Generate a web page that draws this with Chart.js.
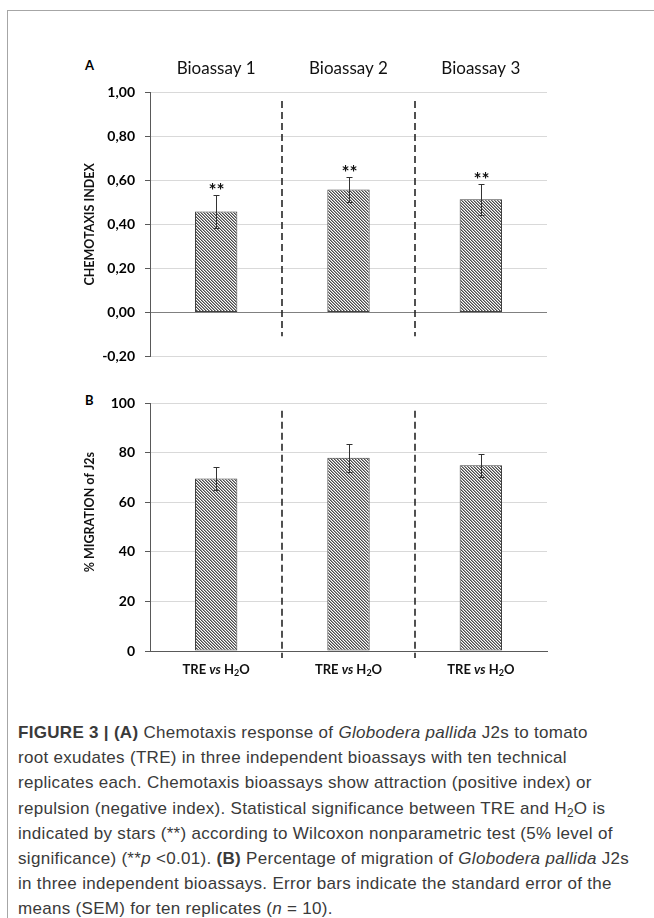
<!DOCTYPE html>
<html><head><meta charset="utf-8">
<script src="https://cdn.jsdelivr.net/npm/chart.js@4.4.1/dist/chart.umd.min.js"></script>
<style>
html,body{margin:0;padding:0;background:#fff;}
body{width:654px;height:918px;position:relative;overflow:hidden;font-family:Lato,sans-serif;}
#frame{position:absolute;left:7px;top:10px;width:700px;height:960px;border-left:1px solid #a6a6a6;border-top:1px solid #a6a6a6;}
canvas{position:absolute;left:0;}
#cA{top:0;}
#cB{top:380px;}
.pl{position:absolute;font:bold 13px Lato,sans-serif;color:#000;}
#cap{position:absolute;left:18px;top:720px;font:17px "Liberation Sans",Arial,sans-serif;letter-spacing:0.3px;color:#3a3a3a;line-height:25.2px;white-space:nowrap;}
#cap sub{font-size:0.7em;vertical-align:-0.25em;line-height:0;}
</style></head>
<body>
<div id="frame"></div>
<div class="pl" style="left:85px;top:57px">A</div>
<div class="pl" style="left:85px;top:392px">B</div>
<canvas id="cA" width="654" height="380"></canvas>
<canvas id="cB" width="654" height="320"></canvas>
<div id="cap">
<b>FIGURE 3 | (A)</b> Chemotaxis response of <i>Globodera pallida</i> J2s to tomato<br>
root exudates (TRE) in three independent bioassays with ten technical<br>
replicates each. Chemotaxis bioassays show attraction (positive index) or<br>
repulsion (negative index). Statistical significance between TRE and H<sub>2</sub>O is<br>
indicated by stars (**) according to Wilcoxon nonparametric test (5% level of<br>
significance) (**<i>p</i> &lt;0.01). <b>(B)</b> Percentage of migration of <i>Globodera pallida</i> J2s<br>
in three independent bioassays. Error bars indicate the standard error of the<br>
means (SEM) for ten replicates (<i>n</i> = 10).
</div>
<script>
// ---- data ----
const categories = ['Bioassay 1', 'Bioassay 2', 'Bioassay 3'];
const chemotaxisIndex = [0.458, 0.559, 0.514];
const chemotaxisSEM = [0.075, 0.059, 0.072];
const significance = ['**', '**', '**'];
const migrationLabels = ['TRE vs H2O', 'TRE vs H2O', 'TRE vs H2O'];
const migrationPct = [69.6, 78.0, 75.0];
const migrationSEM = [4.6, 5.7, 4.7];
const chemoAxisTitle = 'CHEMOTAXIS INDEX';
const migrationAxisTitle = '% MIGRATION of J2s';

function hatch() {
  const c = document.createElement('canvas'); c.width = 3; c.height = 3;
  const g = c.getContext('2d');
  const cols = ['#4a4a4a', '#9c9c9c', '#ffffff'];
  for (let y = 0; y < 3; y++) for (let x = 0; x < 3; x++) {
    g.fillStyle = cols[((x - y) % 3 + 3) % 3]; g.fillRect(x, y, 1, 1);
  }
  return g.createPattern(c, 'repeat');
}

const errorBars = {
  id: 'errorBars',
  afterDatasetsDraw(chart, args, opts) {
    const ctx = chart.ctx, y = chart.scales.y, meta = chart.getDatasetMeta(0);
    ctx.save();
    ctx.strokeStyle = '#333'; ctx.lineWidth = 1;
    opts.values.forEach((v, i) => {
      const x = Math.round(meta.data[i].x) + 0.5;
      const t = Math.round(y.getPixelForValue(v + opts.errors[i])) + 0.5;
      const b = Math.round(y.getPixelForValue(v - opts.errors[i])) + 0.5;
      ctx.beginPath();
      ctx.moveTo(x, t); ctx.lineTo(x, b);
      ctx.moveTo(x - 3, t); ctx.lineTo(x + 3, t);
      ctx.moveTo(x - 3, b); ctx.lineTo(x + 3, b);
      ctx.stroke();
      if (opts.marks) {
        ctx.fillStyle = '#111'; ctx.font = 'bold 19px Lato'; ctx.textAlign = 'center'; ctx.textBaseline = 'middle';
        ctx.fillText(opts.marks[i], x, t - 5);
      }
    });
    ctx.restore();
  }
};

const dividers = {
  id: 'dividers',
  afterDraw(chart, args, opts) {
    const x = chart.scales.x, y = chart.scales.y, ctx = chart.ctx;
    ctx.save();
    ctx.setLineDash([7, 4]); ctx.strokeStyle = '#262626'; ctx.lineWidth = 1.6;
    for (let i = 0; i < chart.data.labels.length - 1; i++) {
      const px = Math.round((x.getPixelForValue(i) + x.getPixelForValue(i + 1)) / 2);
      ctx.beginPath();
      ctx.moveTo(px, y.getPixelForValue(opts.from));
      ctx.lineTo(px, y.getPixelForValue(opts.to));
      ctx.stroke();
    }
    ctx.restore();
  }
};

const richLabels = {
  id: 'richLabels',
  afterDraw(chart, args, opts) {
    if (!opts.enabled) return;
    const ctx = chart.ctx, x = chart.scales.x, yc = chart.chartArea.bottom + opts.offset;
    ctx.save();
    ctx.fillStyle = '#111'; ctx.textBaseline = 'middle'; ctx.textAlign = 'left';
    const fontFor = p => p === 'vs' ? 'italic bold 13px Lato' : (/^\d$/.test(p) ? 'bold 9px Lato' : 'bold 13px Lato');
    chart.data.labels.forEach((lab, i) => {
      const parts = lab.split(/(vs|2)/).filter(s => s.length);
      let w = 0;
      parts.forEach(p => { ctx.font = fontFor(p); w += ctx.measureText(p).width; });
      let cx = x.getPixelForValue(i) - w / 2;
      parts.forEach(p => {
        ctx.font = fontFor(p);
        ctx.fillText(p, cx, /^\d$/.test(p) ? yc + 3 : yc);
        cx += ctx.measureText(p).width;
      });
    });
    ctx.restore();
  }
};

const sideTitle = {
  id: 'sideTitle',
  afterDraw(chart, args, opts) {
    if (!opts.text) return;
    const ctx = chart.ctx, a = chart.chartArea;
    ctx.save();
    ctx.translate(opts.x, (a.top + a.bottom) / 2 + opts.shift);
    ctx.rotate(-Math.PI / 2);
    ctx.fillStyle = '#111'; ctx.font = 'bold 12.5px Lato'; ctx.textAlign = 'center'; ctx.textBaseline = 'middle';
    ctx.fillText(opts.text, 0, 0);
    ctx.restore();
  }
};

Chart.register(errorBars, dividers, richLabels, sideTitle);

const yTickFont = { family: 'Lato', size: 14, weight: 'bold' };

new Chart(document.getElementById('cA'), {
  type: 'bar',
  data: { labels: categories, datasets: [{ data: chemotaxisIndex, backgroundColor: hatch(), borderColor: '#404040', borderWidth: 1, borderSkipped: false, categoryPercentage: 1, barPercentage: 0.32 }] },
  options: {
    responsive: false, animation: false, devicePixelRatio: 1,
    layout: { padding: { left: 0, right: 107, top: 40, bottom: 24 } },
    plugins: {
      legend: { display: false }, tooltip: { enabled: false },
      errorBars: { values: chemotaxisIndex, errors: chemotaxisSEM, marks: significance },
      dividers: { from: 0.962, to: -0.11 },
      sideTitle: { text: chemoAxisTitle, x: 90, shift: 0 }
    },
    scales: {
      x: { position: 'top', grid: { display: false, drawTicks: false }, border: { display: false },
           ticks: { font: { family: 'Lato', size: 17 }, color: '#111', padding: 14 },
           afterFit(s) { s.height = 52.7; } },
      y: { min: -0.2, max: 1,
           ticks: { stepSize: 0.2, callback: v => (Math.abs(v) < 1e-9 ? 0 : v).toFixed(2).replace('.', ','), font: yTickFont, color: '#000', padding: 10 },
           grid: { color: c => Math.abs(c.tick.value) < 1e-9 ? '#808080' : '#d9d9d9', tickColor: '#595959', tickLength: 5 },
           border: { color: '#595959' },
           afterFit(s) { s.width = 150; } }
    }
  }
});

new Chart(document.getElementById('cB'), {
  type: 'bar',
  data: { labels: migrationLabels, datasets: [{ data: migrationPct, backgroundColor: hatch(), borderColor: '#404040', borderWidth: 1, borderSkipped: false, categoryPercentage: 1, barPercentage: 0.32 }] },
  options: {
    responsive: false, animation: false, devicePixelRatio: 1,
    layout: { padding: { left: 0, right: 107, top: 23.3, bottom: 49 } },
    plugins: {
      legend: { display: false }, tooltip: { enabled: false },
      errorBars: { values: migrationPct, errors: migrationSEM },
      dividers: { from: 97, to: -2.8 },
      richLabels: { enabled: true, offset: 19 },
      sideTitle: { text: migrationAxisTitle, x: 90, shift: -15 }
    },
    scales: {
      x: { grid: { display: false, drawTicks: false }, border: { color: '#595959' }, ticks: { display: false },
           afterFit(s) { s.height = 0; } },
      y: { min: 0, max: 100,
           ticks: { stepSize: 20, font: yTickFont, color: '#000', padding: 10 },
           grid: { color: '#d9d9d9', tickColor: '#595959', tickLength: 5 },
           border: { color: '#595959' },
           afterFit(s) { s.width = 150; } }
    }
  }
});
</script>
</body></html>
